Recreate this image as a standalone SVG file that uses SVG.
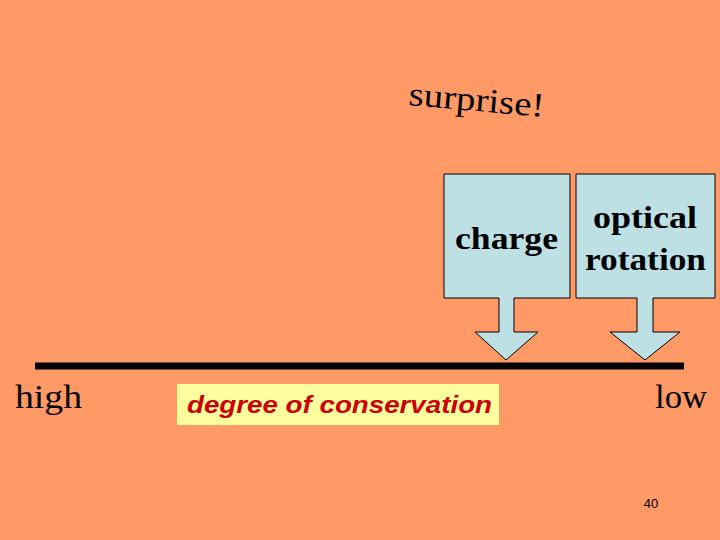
<svg xmlns="http://www.w3.org/2000/svg" width="720" height="540" viewBox="0 0 720 540">
<style>
.s{font-family:"Liberation Serif",serif;fill:#000}
.c{fill:#BCE0E4;stroke:#000;stroke-width:1}
</style>
<rect width="720" height="540" fill="#FF9966"/>
<text class="s" x="408" y="105" font-size="34" textLength="136" lengthAdjust="spacingAndGlyphs" transform="rotate(5 408 105)">surprise!</text>
<g id="charge">
<path class="c" d="M444,174H570V298H514V332H538L506,360L475,332H499V298H444Z"/>
<text class="s" x="455" y="249" font-size="32" font-weight="bold" textLength="103" lengthAdjust="spacingAndGlyphs">charge</text>
</g>
<g id="optical">
<path class="c" d="M576,174H715V298H653V332H680L645,360L610,332H637V298H576Z"/>
<text class="s" x="593" y="228" font-size="32" font-weight="bold" textLength="104" lengthAdjust="spacingAndGlyphs">optical</text>
<text class="s" x="585" y="270" font-size="32" font-weight="bold" textLength="121" lengthAdjust="spacingAndGlyphs">rotation</text>
</g>
<g id="connectors">
<line x1="35" y1="366" x2="684" y2="366" stroke="#000" stroke-width="7"/>
</g>
<g id="scale">
<text class="s" x="15" y="408" font-size="33" textLength="67" lengthAdjust="spacingAndGlyphs">high</text>
<text class="s" x="655" y="408" font-size="33" textLength="52" lengthAdjust="spacingAndGlyphs">low</text>
<rect x="177" y="384" width="322" height="41" fill="#FFFFA0"/>
<text x="187" y="413" font-family="Liberation Sans,sans-serif" font-size="24" font-weight="bold" font-style="italic" fill="#CC0000" textLength="305" lengthAdjust="spacingAndGlyphs">degree of conservation</text>
<text x="651" y="508" font-family="Liberation Sans,sans-serif" font-size="13" text-anchor="middle">40</text>
</g>
</svg>
